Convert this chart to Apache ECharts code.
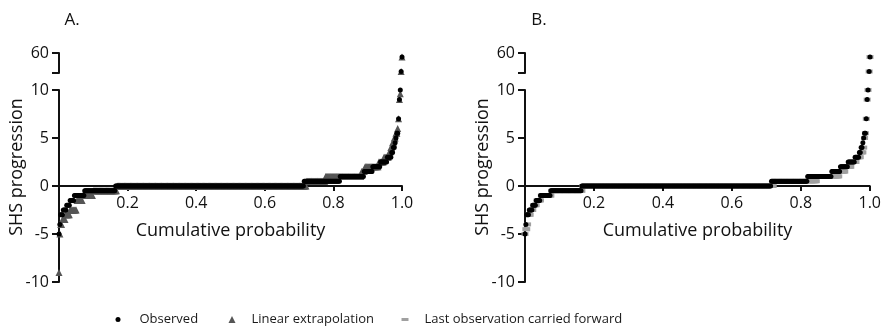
<!DOCTYPE html>
<html><head><meta charset="utf-8">
<script src="https://cdn.jsdelivr.net/npm/echarts@6/dist/echarts.min.js"></script>
<style>html,body{margin:0;padding:0;background:#fff}#c{width:884px;height:331px}</style>
</head><body><div id="c"></div>
<script>
// ---- data (sorted values as run-length: level + number of patients) ----
const obsLevels = [-5,-4,-3,-2.5,-2,-1.5,-1,-0.5,0,0.5,1,1.5,2,2.5,3,3.5,4,4.5,5,5.5,7,9,10,23,52];
const obsCounts = [1,1,3,4,4,5,12,36,220,42,28,10,9,8,5,2,2,1,1,2,1,1,1,1,1];

const linLevels = [-9,-5,-4,-3.5,-3,-2.5,-1.5,-1,-0.5,0,0.5,1,1.5,2,2.5,3,3.5,4,4.5,5,5.5,6,7,9,9.6,23,52];
const linCounts = [1,1,2,4,5,8,7,12,28,221,22,42,4,16,6,6,2,2,2,2,2,1,1,1,1,1,1];

const locfLevels = [-5,-4.5,-4,-3,-2.5,-2,-1.5,-1,-0.5,0,0.5,1,1.5,2,2.5,3,3.5,4,5,5.5,7,9,10,23,52];
const locfCounts = [1,2,1,3,3,4,5,12,36,222,50,26,7,7,6,5,3,1,1,1,1,1,1,1,1];

const xTickValues = [0.2,0.4,0.6,0.8,1.0];
const yTickValues = [-10,-5,0,5,10];
const yUpperTicks = [20,60];
const yUpperLabels = [60];
const seriesNames = ['Observed','Linear extrapolation','Last observation carried forward'];
const panelLabels = ['A.','B.'];
const xTitle = 'Cumulative probability';
const yTitle = 'SHS progression';

// cumulative probability plot: sorted values vs rank/(n-1)
function cdf(levels, counts){
  const vals=[];
  levels.forEach((v,k)=>{for(let j=0;j<counts[k];j++) vals.push(v);});
  const n=vals.length;
  return vals.map((v,i)=>[i/(n-1), v]);
}
const obs = cdf(obsLevels, obsCounts);
const lin = cdf(linLevels, linCounts);
const locf = cdf(locfLevels, locfCounts);
const low = d => d.filter(p=>p[1]<=10);
const up = d => d.filter(p=>p[1]>10);

const FONT = 'Open Sans';
const BLACK = '#111';
const lineS = {color: BLACK, width: 2};

const grids = [
  {left:59, top:90, width:343, height:192},
  {left:59, top:53, width:343, height:20},
  {left:525, top:90, width:345, height:192},
  {left:525, top:53, width:345, height:20}
];
// x axis drawn at y = 0 : half the lower grid height above its bottom edge
function xAx(gi, show){
  return {gridIndex:gi, type:'value', min:0, max:1, show:show, position:'bottom', offset:-96,
    axisLine:{show:true, onZero:false, lineStyle:lineS},
    axisTick:{show:true, length:5, lineStyle:{color:BLACK,width:2}, customValues:xTickValues},
    axisLabel:{show:true, customValues:xTickValues, formatter:v=>v.toFixed(1), fontFamily:FONT, fontSize:16, color:BLACK, margin:9},
    splitLine:{show:false}
  };
}
function yLow(gi){
  return {gridIndex:gi, type:'value', min:-10, max:10, interval:5,
    axisLine:{show:true, onZero:false, lineStyle:lineS},
    axisTick:{show:true, length:7, lineStyle:{color:BLACK,width:2}, customValues:yTickValues},
    axisLabel:{customValues:yTickValues, fontFamily:FONT, fontSize:16, color:BLACK, margin:10},
    splitLine:{show:false}};
}
function yUp(gi){
  return {gridIndex:gi, type:'value', min:20, max:60,
    axisLine:{show:true, onZero:false, lineStyle:lineS},
    axisTick:{show:true, length:7, lineStyle:{color:BLACK,width:2}, customValues:yUpperTicks},
    axisLabel:{customValues:yUpperLabels, fontFamily:FONT, fontSize:16, color:BLACK, margin:10},
    splitLine:{show:false}};
}
function sc(name, data, xi, sym, size, color, z){
  return {name:name, type:'scatter', xAxisIndex:xi, yAxisIndex:xi, data:data,
    symbol:sym, symbolSize:size, itemStyle:{color:color, opacity:1}, clip:false, z:z,
    emphasis:{disabled:true}, silent:true};
}
const cObs='#000', cLin='#555', cLocf='#a0a0a0';
const series = [
  sc(seriesNames[1], low(lin), 0, 'triangle', 7, cLin, 2),
  sc(seriesNames[1], up(lin), 1, 'triangle', 7, cLin, 2),
  sc(seriesNames[0], low(obs), 0, 'circle', 5, cObs, 3),
  sc(seriesNames[0], up(obs), 1, 'circle', 5, cObs, 3),
  sc(seriesNames[2], low(locf), 2, 'rect', [7,4], cLocf, 2),
  sc(seriesNames[2], up(locf), 3, 'rect', [7,4], cLocf, 2),
  sc(seriesNames[0], low(obs), 2, 'circle', 5, cObs, 3),
  sc(seriesNames[0], up(obs), 3, 'circle', 5, cObs, 3)
];
function legText(pad){ return {fontFamily:FONT, fontSize:13, color:'#1a1a1a', padding:[0,0,0,pad]}; }
function txt(t, x, y, size, rot){
  return {type:'text', x:x, y:y, rotation:rot||0,
    style:{text:t, fontFamily:FONT, fontSize:size, fill:BLACK, align:'center', verticalAlign:'middle'}};
}
const option = {
  animation:false,
  backgroundColor:'#fff',
  grid:grids,
  xAxis:[xAx(0,true), xAx(1,false), xAx(2,true), xAx(3,false)],
  yAxis:[yLow(0), yUp(1), yLow(2), yUp(3)],
  legend:[
    {data:[seriesNames[0]], left:115.5, top:313, itemWidth:5, itemHeight:5, icon:'circle', textStyle:legText(14), padding:0, selectedMode:false},
    {data:[seriesNames[1]], left:228.5, top:313, itemWidth:7, itemHeight:7, icon:'triangle', textStyle:legText(11), padding:0, selectedMode:false},
    {data:[seriesNames[2]], left:401.5, top:313, itemWidth:7, itemHeight:3, icon:'rect', textStyle:legText(11), padding:0, selectedMode:false}
  ],
  graphic:[
    txt(panelLabels[0], 72, 20, 17),
    txt(panelLabels[1], 539, 20, 17),
    txt(yTitle, 17, 167, 18, Math.PI/2),
    txt(yTitle, 483, 167, 18, Math.PI/2),
    txt(xTitle, 230.5, 231, 18),
    txt(xTitle, 697.5, 231, 18)
  ],
  series:series
};
const chart = echarts.init(document.getElementById('c'), null, {renderer:'canvas'});
chart.setOption(option);
</script>
</body></html>
